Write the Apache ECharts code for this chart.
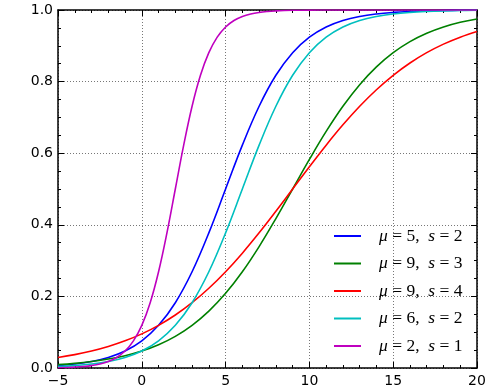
<!DOCTYPE html>
<html><head><meta charset="utf-8">
<script src="https://cdn.jsdelivr.net/npm/echarts@6/dist/echarts.min.js"></script>
<style>html,body{margin:0;padding:0;background:#fff}#c{width:497px;height:390px}</style>
</head><body><div id="c"></div>
<script>
const xCoarse = [-5,-4,-3,-2,-1,0,1,2,3,4,5,6,7,8,9,10,11,12,13,14,15,16,17,18,19,20];
const xFine = [-5,-4.5,-4,-3.5,-3,-2.5,-2,-1.5,-1,-0.5,0,0.5,1,1.5,2,2.5,3,3.5,4,4.5,5,5.5,6,6.5,7,7.5,8,8.5,9,10,11,12,13,14,15,16,17,18,19,20];
const seriesNames = ['μ=5, s=2','μ=9, s=3','μ=9, s=4','μ=6, s=2','μ=2, s=1'];
const muLabels = ['5','9','9','6','2'];
const sLabels = ['2','3','4','2','1'];
const yBlue = [0.0067,0.0110,0.0180,0.0293,0.0474,0.0759,0.1192,0.1824,0.2689,0.3775,0.5,0.6225,0.7311,0.8176,0.8808,0.9241,0.9526,0.9707,0.9820,0.9890,0.9933,0.9959,0.9975,0.9985,0.9991,0.9994];
const yGreen = [0.0093,0.0129,0.0180,0.0249,0.0344,0.0474,0.0650,0.0884,0.1192,0.1589,0.2086,0.2689,0.3392,0.4174,0.5,0.5826,0.6608,0.7311,0.7914,0.8411,0.8808,0.9116,0.9350,0.9526,0.9656,0.9751];
const yRed = [0.0293,0.0373,0.0474,0.0601,0.0759,0.0953,0.1192,0.1480,0.1824,0.2227,0.2689,0.3208,0.3775,0.4378,0.5,0.5622,0.6225,0.6792,0.7311,0.7773,0.8176,0.8520,0.8808,0.9047,0.9241,0.9399];
const yCyan = [0.0041,0.0067,0.0110,0.0180,0.0293,0.0474,0.0759,0.1192,0.1824,0.2689,0.3775,0.5,0.6225,0.7311,0.8176,0.8808,0.9241,0.9526,0.9707,0.9820,0.9890,0.9933,0.9959,0.9975,0.9985,0.9991];
const yMagenta = [0.0009,0.0015,0.0025,0.0041,0.0067,0.0110,0.0180,0.0293,0.0474,0.0759,0.1192,0.1824,0.2689,0.3775,0.5,0.6225,0.7311,0.8176,0.8808,0.9241,0.9526,0.9707,0.9820,0.9890,0.9933,0.9959,0.9975,0.9985,0.9991,0.9997,0.9999,1,1,1,1,1,1,1,1,1];
const colors = ['#0000ff','#008000','#ff0000','#00bfbf','#bf00bf'];

const pair = (xs, ys) => xs.map((x,i)=>[x,ys[i]]);
const datasets = [pair(xCoarse,yBlue),pair(xCoarse,yGreen),pair(xCoarse,yRed),pair(xCoarse,yCyan),pair(xFine,yMagenta)];

const tickStyle = {show:true, inside:true, length:6, lineStyle:{color:'#000', width:1}};
const minorStyle = {length:3, lineStyle:{color:'#000', width:1}};
const axisLine = {show:true, onZero:false, lineStyle:{color:'#000', width:1.5}};
const lbl = {fontFamily:'DejaVu Sans', fontSize:14, color:'#000'};

const chart = echarts.init(document.getElementById('c'), null, {renderer:'canvas'});
chart.setOption({
  animation:false,
  backgroundColor:'#fff',
  grid:{left:58, top:10, right:20, bottom:22, containLabel:false},
  xAxis:[
    {type:'value', min:-5, max:20, interval:5, position:'bottom',
     axisLine:axisLine, axisTick:tickStyle,
     minorTick:Object.assign({show:true, splitNumber:5}, minorStyle),
     splitLine:{show:true, lineStyle:{color:'#777', type:[1,2], width:1}},
     axisLabel:Object.assign({margin:6, formatter:v=>String(v).replace('-','\u2212')}, lbl)},
    {type:'value', min:-5, max:20, interval:5, position:'top',
     axisLine:axisLine, axisTick:tickStyle,
     minorTick:Object.assign({show:true, splitNumber:5}, minorStyle),
     splitLine:{show:false}, axisLabel:{show:false}}
  ],
  yAxis:[
    {type:'value', min:0, max:1, interval:0.2, position:'left',
     axisLine:axisLine, axisTick:tickStyle,
     minorTick:Object.assign({show:true, splitNumber:4}, minorStyle),
     splitLine:{show:true, lineStyle:{color:'#777', type:[1,2], width:1}},
     axisLabel:Object.assign({margin:5, formatter:v=>v.toFixed(1)}, lbl)},
    {type:'value', min:0, max:1, interval:0.2, position:'right',
     axisLine:axisLine, axisTick:tickStyle,
     minorTick:Object.assign({show:true, splitNumber:4}, minorStyle),
     splitLine:{show:false}, axisLabel:{show:false}}
  ],
  legend:{
    orient:'vertical', left:329, top:222, itemWidth:27, itemHeight:2, itemGap:9.5,
    icon:'rect',
    data:seriesNames,
    formatter:function(name){
      const i = seriesNames.indexOf(name);
      return '{i|μ}{n| = '+muLabels[i]+',  }{i|s}{n| = '+sLabels[i]+'}';
    },
    textStyle:{padding:[0,0,0,13], lineHeight:18,
      rich:{
        i:{fontFamily:'Liberation Serif', fontStyle:'italic', fontSize:17.5, color:'#000', lineHeight:18},
        n:{fontFamily:'Liberation Serif', fontSize:17.5, color:'#000', lineHeight:18}
      }}
  },
  series: datasets.map((d,i)=>({
    name:seriesNames[i], type:'line', data:d, smooth:0.4, showSymbol:false, symbol:'none',
    xAxisIndex:0, yAxisIndex:0, clip:true,
    lineStyle:{color:colors[i], width:1.6}, itemStyle:{color:colors[i]}
  }))
});
</script></body></html>
